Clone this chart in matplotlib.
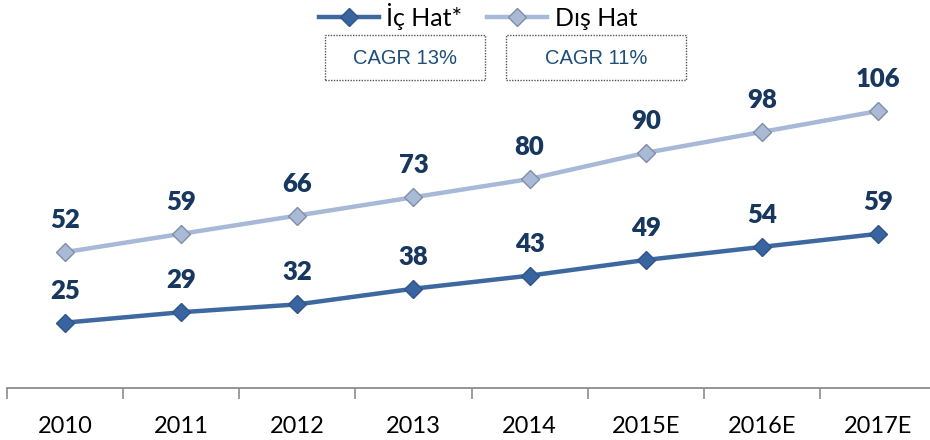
import numpy as np
import matplotlib
matplotlib.use('Agg')
import matplotlib.pyplot as plt
from matplotlib.patches import Rectangle

years = ["2010", "2011", "2012", "2013", "2014", "2015E", "2016E", "2017E"]
ic_hat = [25, 29, 32, 38, 43, 49, 54, 59]
dis_hat = [52, 59, 66, 73, 80, 90, 98, 106]
series_names = ["İç Hat*", "Dış Hat"]
cagr_labels = ["CAGR 13%", "CAGR 11%"]

W, H = 930, 440
fig = plt.figure(figsize=(W / 100, H / 100), dpi=100)
# plot area in pixel terms: x from 7 to 936, y from 0 to 388
ax = fig.add_axes([7 / W, (H - 388) / H, 929 / W, 388 / H])

x = np.arange(len(years))
c_ic = "#3E68A0"
c_dis = "#A7B9D7"
lbl_col = "#17375E"

ax.plot(x, dis_hat, color=c_dis, lw=3.2, marker="D", ms=9,
        mfc="#A9BAD6", mec="#7F8DA6", mew=1, label=series_names[1], zorder=3)
ax.plot(x, ic_hat, color=c_ic, lw=3.2, marker="D", ms=9,
        mfc="#3A64A0", mec="#2F5589", mew=1, label=series_names[0], zorder=3)

for xi, v in zip(x, dis_hat):
    ax.annotate(str(v), (xi, v), xytext=(0, 23), textcoords="offset points",
                ha="center", va="center", fontsize=18.5, fontweight="heavy",
                color=lbl_col, family="Lato")
for xi, v in zip(x, ic_hat):
    ax.annotate(str(v), (xi, v), xytext=(0, 23), textcoords="offset points",
                ha="center", va="center", fontsize=18.5, fontweight="heavy",
                color=lbl_col, family="Lato")

ax.set_xlim(-0.5, 7.5)
ax.set_ylim(0, 148.5)
ax.set_xticks(x)
ax.set_xticklabels(years, family="Lato", fontsize=17)
ax.set_xticks(np.arange(-0.5, 8, 1), minor=True)
ax.tick_params(axis="x", which="major", length=0, pad=20)
ax.tick_params(axis="x", which="minor", length=8, color="#8C8C8C", width=1.2)
ax.set_yticks([])
for s in ["top", "right", "left"]:
    ax.spines[s].set_visible(False)
ax.spines["bottom"].set_color("#8C8C8C")
ax.spines["bottom"].set_linewidth(1.3)

# legend drawn as figure-level handles
handles, labels = ax.get_legend_handles_labels()
order = [1, 0]
leg = fig.legend([handles[i] for i in order], [labels[i] for i in order],
                 loc="center", bbox_to_anchor=(478 / W, 1 - 16 / H), ncol=2,
                 frameon=False, prop={"family": "Lato", "size": 18},
                 handlelength=2.4, handletextpad=0.3, columnspacing=1.0)

# CAGR boxes
for (x0, x1), txt in zip([(325, 485), (506, 686)], cagr_labels):
    rect = Rectangle((x0 / W, 1 - 80 / H), (x1 - x0) / W, 45 / H,
                     transform=fig.transFigure, fill=False, ec="#555555",
                     lw=1, ls=(0, (1, 1)))
    fig.add_artist(rect)
    fig.text((x0 + x1) / 2 / W, 1 - 58 / H, txt, ha="center", va="center",
             fontsize=14.5, color="#1F4E79", family="Liberation Sans")

fig.savefig("out.png", dpi=100)
